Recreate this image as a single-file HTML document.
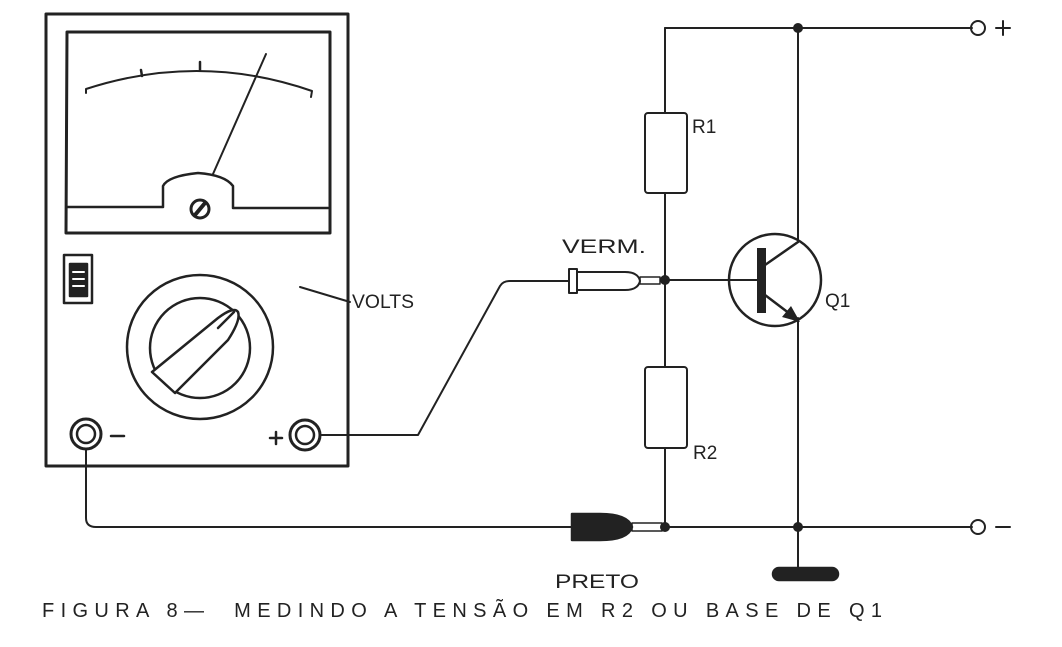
<!DOCTYPE html>
<html><head><meta charset="utf-8"><style>
html,body{margin:0;padding:0;background:#fff;}
svg{display:block;}
text{font-family:"Liberation Sans",sans-serif;fill:#222;}
</style></head><body>
<svg width="1062" height="647" viewBox="0 0 1062 647" xmlns="http://www.w3.org/2000/svg">
<g fill="none" stroke="#222" stroke-width="2.5" stroke-linecap="round" stroke-linejoin="round">
<rect x="46" y="14" width="302" height="452" stroke-width="3"/>
<path d="M67 32 H330 V233 H66 Z" stroke-width="3"/>
<path d="M67 207 H163 V186 Q168 176 198 173 Q225 175 233 186 V208 H328" />
<path d="M86 93 L86 89 Q200 52 312 91 L311 97" stroke-width="2"/>
<line x1="141" y1="70" x2="142" y2="76"/><line x1="200" y1="62" x2="200" y2="70"/>
<line x1="213" y1="174" x2="266" y2="54" stroke-width="2"/>
<circle cx="200" cy="209" r="9" stroke-width="3"/>
<line x1="195" y1="215" x2="205" y2="203" stroke-width="4"/>
<rect x="64" y="255" width="28" height="48"/>
<rect x="70" y="264" width="17" height="32" fill="#222"/>
<line x1="73" y1="272" x2="84" y2="272" stroke="#fff" stroke-width="2"/>
<line x1="73" y1="279" x2="84" y2="279" stroke="#fff" stroke-width="2"/>
<line x1="73" y1="286" x2="84" y2="286" stroke="#fff" stroke-width="2"/>
<ellipse cx="200" cy="347" rx="73" ry="72"/>
<ellipse cx="200" cy="348" rx="50" ry="50"/>
<path d="M152 372 L218 318 Q234 306 238 312 Q241 320 228 340 L175 393 Z" fill="#fff"/>
<line x1="218" y1="328" x2="234" y2="312"/>
<line x1="300" y1="287" x2="350" y2="302" stroke-width="2"/>
<circle cx="86" cy="434" r="15" stroke-width="3"/><circle cx="86" cy="434" r="9"/>
<line x1="111" y1="436" x2="124" y2="436"/>
<circle cx="305" cy="435" r="15" stroke-width="3"/><circle cx="305" cy="435" r="9"/>
<line x1="270" y1="438" x2="282" y2="438"/><line x1="276" y1="432" x2="276" y2="444"/>
<path d="M320 435 H418 L500 286 Q503 281 510 281 H568" stroke-width="2"/>
<path d="M86 449 V518 Q86 527 96 527 H574" stroke-width="2"/>
<rect x="569" y="269" width="8" height="24" stroke-width="2"/>
<path d="M577 272 H625 Q638 272 640 281 Q638 290 625 290 H577" stroke-width="2"/>
<rect x="640" y="277" width="20" height="7" stroke-width="1.5"/>
<path d="M572 514 H600 Q628 514 632 527 Q628 540 600 540 H572 Z" fill="#222"/>
<rect x="632" y="523" width="30" height="8" stroke-width="1.5"/>
<path d="M665 28 H972" stroke-width="2"/>
<path d="M665 28 V113 M665 193 V367 M665 448 V527" stroke-width="2"/>
<rect x="645" y="113" width="42" height="80" rx="3" stroke-width="2"/>
<rect x="645" y="367" width="42" height="81" rx="3" stroke-width="2"/>
<path d="M662 527 H972" stroke-width="2"/>
<path d="M798 28 V242 M798 318 V575" stroke-width="2"/>
<circle cx="978" cy="28" r="7" stroke-width="2"/>
<circle cx="978" cy="527" r="7" stroke-width="2"/>
<line x1="996" y1="28" x2="1010" y2="28" stroke-width="2"/><line x1="1003" y1="21" x2="1003" y2="35" stroke-width="2"/>
<line x1="996" y1="527" x2="1010" y2="527" stroke-width="2"/>
<circle cx="775" cy="280" r="46" stroke-width="2.5"/>
<line x1="665" y1="280" x2="758" y2="280" stroke-width="2"/>
<rect x="757" y="248" width="9" height="65" fill="#222" stroke="none"/>
<line x1="765" y1="265" x2="798" y2="242" stroke-width="2.5"/>
<line x1="765" y1="295" x2="798" y2="320" stroke-width="2.5"/>
<rect x="773" y="568" width="65" height="12" rx="6" fill="#222"/>
</g>
<polygon points="800,322 782,317 791,306" fill="#222"/>
<g fill="#222">
<circle cx="665" cy="280" r="5"/><circle cx="665" cy="527" r="5"/>
<circle cx="798" cy="28" r="5"/><circle cx="798" cy="527" r="5"/>
</g>
<text x="352" y="308" font-size="19" textLength="62" lengthAdjust="spacingAndGlyphs">VOLTS</text>
<text x="562" y="253" font-size="19" textLength="84" lengthAdjust="spacingAndGlyphs">VERM.</text>
<text x="692" y="133" font-size="19">R1</text>
<text x="693" y="459" font-size="19">R2</text>
<text x="825" y="307" font-size="19">Q1</text>
<text x="555" y="588" font-size="19" textLength="84" lengthAdjust="spacingAndGlyphs">PRETO</text>
<text x="42" y="617" font-size="20" style="white-space:pre" textLength="840" lengthAdjust="spacing">FIGURA 8—  MEDINDO A TENSÃO EM R2 OU BASE DE Q1</text>
</svg>
</body></html>
